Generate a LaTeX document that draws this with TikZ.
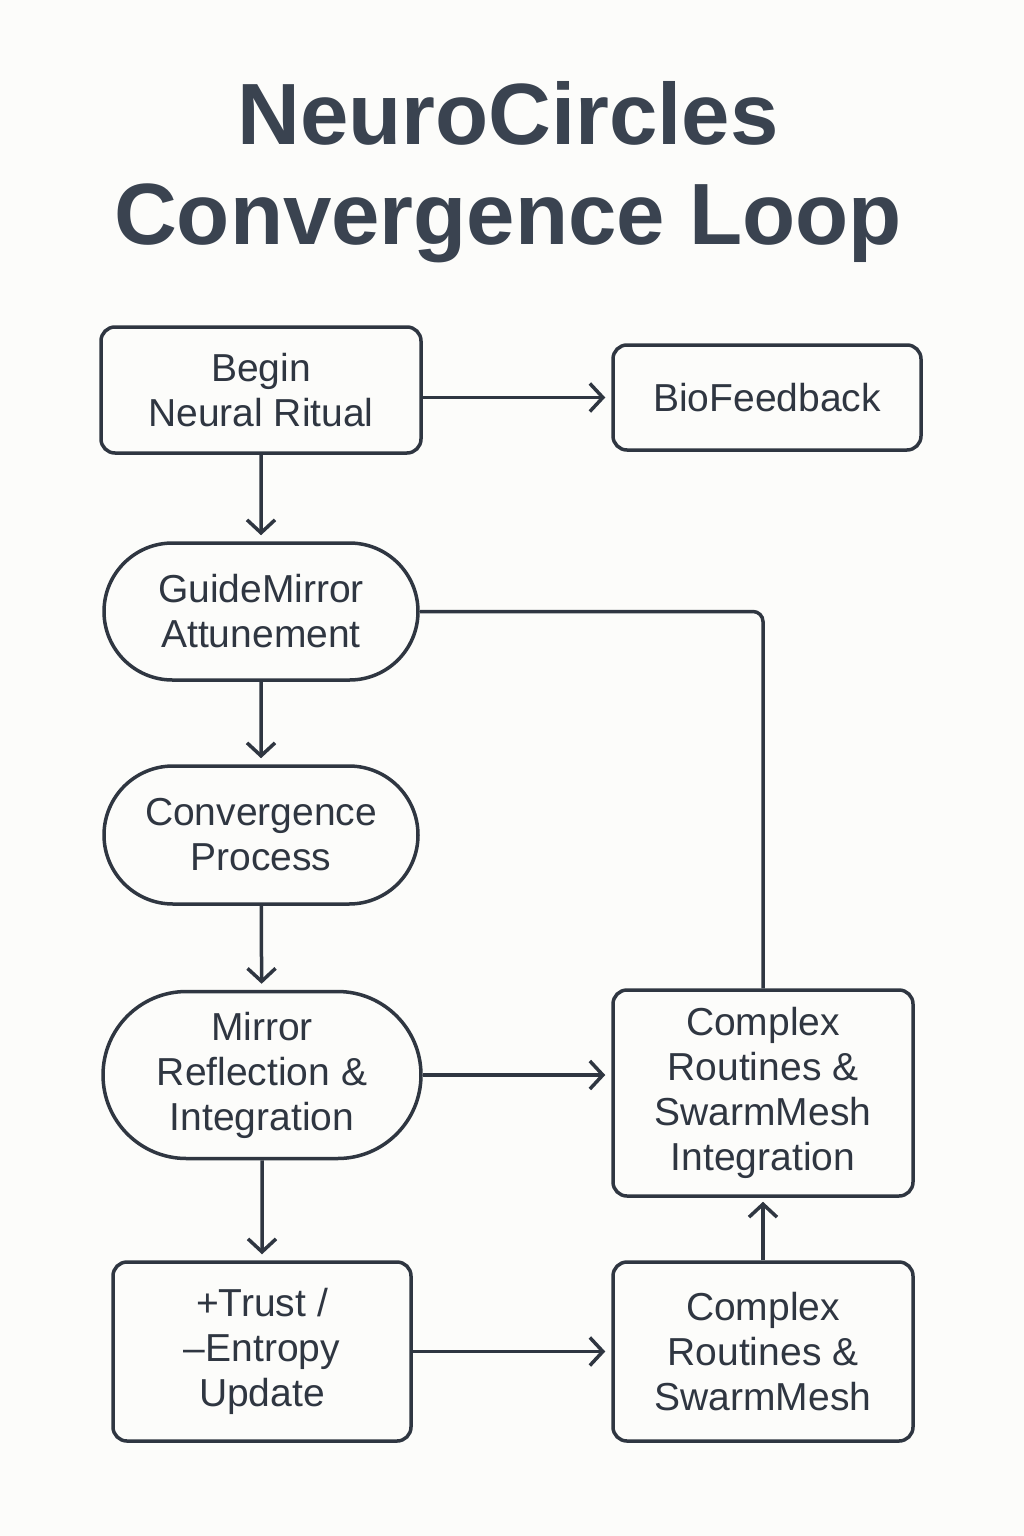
\documentclass[tikz,border=0pt]{standalone}
\usepackage{fontspec}
\setmainfont{Liberation Sans}
\usetikzlibrary{arrows.meta,shapes.misc}
\definecolor{ink}{HTML}{2F3641}
\definecolor{titleink}{HTML}{3A4350}
\definecolor{paper}{HTML}{FCFCFA}
\tikzset{
  box/.style={draw=ink,line width=3.5pt,rounded corners=14pt,align=center,text=ink,
    inner sep=0pt,font=\fontsize{39}{45}\selectfont},
  pill/.style={draw=ink,line width=3.5pt,rounded rectangle,align=center,text=ink,
    inner sep=0pt,font=\fontsize{39}{45}\selectfont},
  title/.style={align=center,text=titleink,font=\fontsize{87}{100}\selectfont\bfseries},
  flow/.style={draw=ink,line width=3.5pt,->,shorten >=6pt},
}
\begin{document}
\begin{tikzpicture}[x=1pt,y=-1pt,>={Straight Barb[length=13pt,width=28pt]}]
	\fill[paper] (0,0) rectangle (1024,1536);
	\node[title] (head) at (508,172) {NeuroCircles\\Convergence Loop};
	% left column
	\node[box,minimum width=320pt,minimum height=126pt] (begin) at (261,390) {Begin\\Neural Ritual};
	\node[pill,minimum width=314pt,minimum height=137pt] (guide) at (261,611.5) {GuideMirror\\Attunement};
	\node[pill,minimum width=314pt,minimum height=138pt] (conv) at (261,835) {Convergence\\Process};
	\node[pill,minimum width=318pt,minimum height=167pt] (mirror) at (262,1075) {Mirror\\Reflection \&\\Integration};
	\node[box,minimum width=298pt,minimum height=179pt] (trust) at (262,1351.5) {+Trust /\\\textendash Entropy\\Update};
	% right column
	\node[box,minimum width=308pt,minimum height=105pt] (bio) at (767,397.5) {BioFeedback};
	\node[box,minimum width=300pt,minimum height=206pt] (cri) at (763,1093) {Complex\\Routines \&\\SwarmMesh\\Integration};
	\node[box,minimum width=300pt,minimum height=179pt] (crs) at (763,1351.5) {Complex\\Routines \&\\SwarmMesh};
	% connectors
	\draw[flow] (begin.east |- bio.west) -- (bio.west);
	\draw[flow] (begin) -- (guide);
	\draw[flow] (guide) -- (conv);
	\draw[flow] (conv) -- (mirror);
	\draw[flow] (mirror) -- (trust);
	\draw[flow] (mirror.east) -- (mirror.east -| cri.west);
	\draw[flow] (trust) -- (crs);
	\draw[flow,shorten >=4pt] (crs) -- (cri);
	\draw[draw=ink,line width=3.5pt,rounded corners=10pt] (guide.east) -| (cri.north);
\end{tikzpicture}
\end{document}
